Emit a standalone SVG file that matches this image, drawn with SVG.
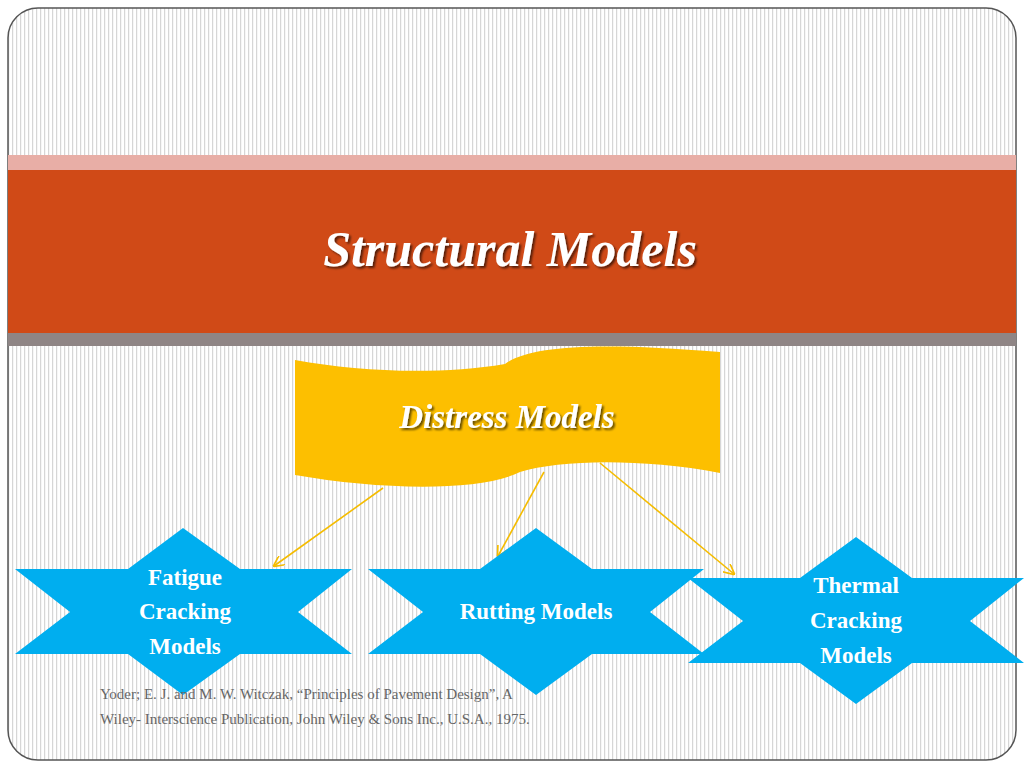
<svg xmlns="http://www.w3.org/2000/svg" width="1024" height="768" viewBox="0 0 1024 768">
<defs>
<pattern id="stripes" width="4" height="10" patternUnits="userSpaceOnUse"><rect width="4" height="10" fill="#fff"/><rect width="1.2" height="10" fill="#d6d6d6"/></pattern>
<marker id="ah" viewBox="0 0 10 10" refX="9" refY="5" markerWidth="7" markerHeight="7" orient="auto"><path d="M0,0 L10,5 L0,10" fill="none" stroke="#f5bc00" stroke-width="1.5"/></marker>
<filter id="sh" x="-10%" y="-20%" width="120%" height="140%"><feDropShadow dx="2" dy="2" stdDeviation="1" flood-color="#000" flood-opacity="0.6"/></filter>
</defs>
<style>
.star{fill:#00aeef}
.lbl{font-family:"Liberation Serif",serif;font-weight:bold;font-size:23px;fill:#fff;text-anchor:middle}
.conn{stroke:#f5bc00;stroke-width:1.6;fill:none;marker-end:url(#ah)}
.ref{font-family:"Liberation Serif",serif;font-size:15px;fill:#666}
</style>
<rect width="1024" height="768" fill="#fff"/>
<rect x="8" y="8" width="1008" height="752" rx="30" fill="url(#stripes)" stroke="#555" stroke-width="1.5"/>
<rect x="8" y="155" width="1008" height="15" fill="#e8aea6"/>
<rect x="8" y="170" width="1008" height="163" fill="#d04a17"/>
<rect x="8" y="333" width="1008" height="13" fill="#8f8585"/>
<text x="510" y="266" text-anchor="middle" font-family="Liberation Serif,serif" font-style="italic" font-weight="bold" font-size="50" fill="#fff" filter="url(#sh)">Structural Models</text>
<g id="distress">
<path d="M295,360 C360,372 440,375 505,364 C530,345 600,342 720,352 L720,473 C640,458 560,460 520,472 C480,492 380,490 295,475 Z" fill="#fdbf00"/>
<text x="507" y="428" text-anchor="middle" font-family="Liberation Serif,serif" font-style="italic" font-weight="bold" font-size="33" fill="#fff" filter="url(#sh)">Distress Models</text>
</g>
<g id="connectors">
<line class="conn" x1="383" y1="488" x2="274" y2="566"/>
<line class="conn" x1="544" y1="472" x2="498" y2="556"/>
<line class="conn" x1="600" y1="463" x2="734" y2="574"/>
</g>
<g id="fatigue">
<path class="star" d="M183,528 L240,569 L352,569 L298,612 L352,654 L240,654 L183,695 L128,654 L15,654 L70,612 L15,569 L128,569 Z"/>
<text class="lbl" x="185" y="585">Fatigue</text><text class="lbl" x="185" y="619">Cracking</text><text class="lbl" x="185" y="654">Models</text>
</g>
<g id="rutting">
<path class="star" d="M536,528 L592,569 L704,569 L650,612 L704,654 L592,654 L536,695 L480,654 L368,654 L423,612 L368,569 L480,569 Z"/>
<text class="lbl" x="536" y="619">Rutting Models</text>
</g>
<g id="thermal">
<path class="star" d="M856,537 L912,578 L1024,578 L970,621 L1024,663 L912,663 L856,704 L800,663 L688,663 L743,621 L688,578 L800,578 Z"/>
<text class="lbl" x="856" y="593">Thermal</text><text class="lbl" x="856" y="628">Cracking</text><text class="lbl" x="856" y="663">Models</text>
</g>
<text class="ref" x="100" y="699">Yoder; E. J. and M. W. Witczak, “Principles of Pavement Design”, A</text>
<text class="ref" x="100" y="724">Wiley- Interscience Publication, John Wiley &amp; Sons Inc., U.S.A., 1975.</text>
</svg>
